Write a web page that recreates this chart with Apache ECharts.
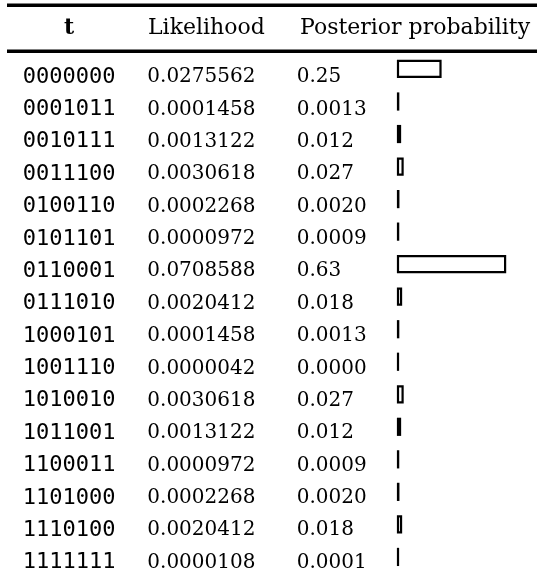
<!DOCTYPE html>
<html>
<head>
<meta charset="utf-8">
<script src="https://cdn.jsdelivr.net/npm/echarts@6/dist/echarts.min.js"></script>
<style>
  html, body { margin: 0; padding: 0; background: #fff; }
  #chart { width: 541px; height: 584px; }
</style>
</head>
<body>
<div id="chart"></div>
<script>
// table rows
var codes = ["0000000", "0001011", "0010111", "0011100", "0100110", "0101101", "0110001", "0111010",
  "1000101", "1001110", "1010010", "1011001", "1100011", "1101000", "1110100", "1111111"];
var likelihood = ["0.0275562", "0.0001458", "0.0013122", "0.0030618", "0.0002268", "0.0000972", "0.0708588", "0.0020412",
  "0.0001458", "0.0000042", "0.0030618", "0.0013122", "0.0000972", "0.0002268", "0.0020412", "0.0000108"];
var posterior = ["0.25", "0.0013", "0.012", "0.027", "0.0020", "0.0009", "0.63", "0.018",
  "0.0013", "0.0000", "0.027", "0.012", "0.0009", "0.0020", "0.018", "0.0001"];
var headers = ["t", "Likelihood", "Posterior probability"];

var chart = echarts.init(document.getElementById("chart"));

var barLeft = 398;
var pxPerUnit = 170;

chart.setOption({
  animation: false,
  grid: [
    // text rows
    { left: barLeft, top: 60.8, height: 518, width: 143 },
    // bars
    { left: barLeft, top: 52.7, height: 520.5, width: 143 }
  ],
  xAxis: [
    { gridIndex: 0, type: "value", show: false, min: 0, max: 1 },
    { gridIndex: 1, type: "value", show: false, min: 0, max: 143 / pxPerUnit }
  ],
  yAxis: [
    {
      gridIndex: 0, type: "category", inverse: true, data: codes,
      axisLine: { show: false }, axisTick: { show: false }, splitLine: { show: false },
      axisLabel: {
        align: "left",
        margin: barLeft - 22.7,
        formatter: function (v, i) {
          return "{t|" + v + "}{l|" + likelihood[i] + "}{p|" + posterior[i] + "}";
        },
        rich: {
          t: { fontFamily: "DejaVu Sans Mono", fontSize: 22, color: "#000", width: 124.6 },
          l: { fontFamily: "DejaVu Serif", fontSize: 20, color: "#000", width: 149.4 },
          p: { fontFamily: "DejaVu Serif", fontSize: 20, color: "#000" }
        }
      }
    },
    { gridIndex: 1, type: "category", inverse: true, data: codes, show: false }
  ],
  series: [{
    type: "custom",
    xAxisIndex: 1,
    yAxisIndex: 1,
    data: posterior.map(function (p, i) { return [Number(p), i]; }),
    encode: { x: 0, y: 1 },
    renderItem: function (params, api) {
      var start = api.coord([0, api.value(1)]);
      var end = api.coord([api.value(0), api.value(1)]);
      var w = Math.max(end[0] - start[0], 0.01);
      return {
        type: "rect",
        shape: { x: start[0], y: start[1] - 8, width: w, height: 16 },
        style: { fill: "#fff", stroke: "#000", lineWidth: 2.2 }
      };
    }
  }],
  graphic: [
    { type: "rect", shape: { x: 7, y: 3.5, width: 530, height: 3.5 }, style: { fill: "#000" } },
    { type: "rect", shape: { x: 7, y: 49.5, width: 530, height: 3.5 }, style: { fill: "#000" } },
    { type: "text", x: 69, y: 28, style: { text: headers[0], font: "bold 22px 'DejaVu Serif'", fill: "#000", align: "center", verticalAlign: "middle" } },
    { type: "text", x: 148, y: 28, style: { text: headers[1], font: "22px 'DejaVu Serif'", fill: "#000", align: "left", verticalAlign: "middle" } },
    { type: "text", x: 300, y: 28, style: { text: headers[2], font: "22px 'DejaVu Serif'", fill: "#000", align: "left", verticalAlign: "middle" } }
  ]
});
</script>
</body>
</html>
